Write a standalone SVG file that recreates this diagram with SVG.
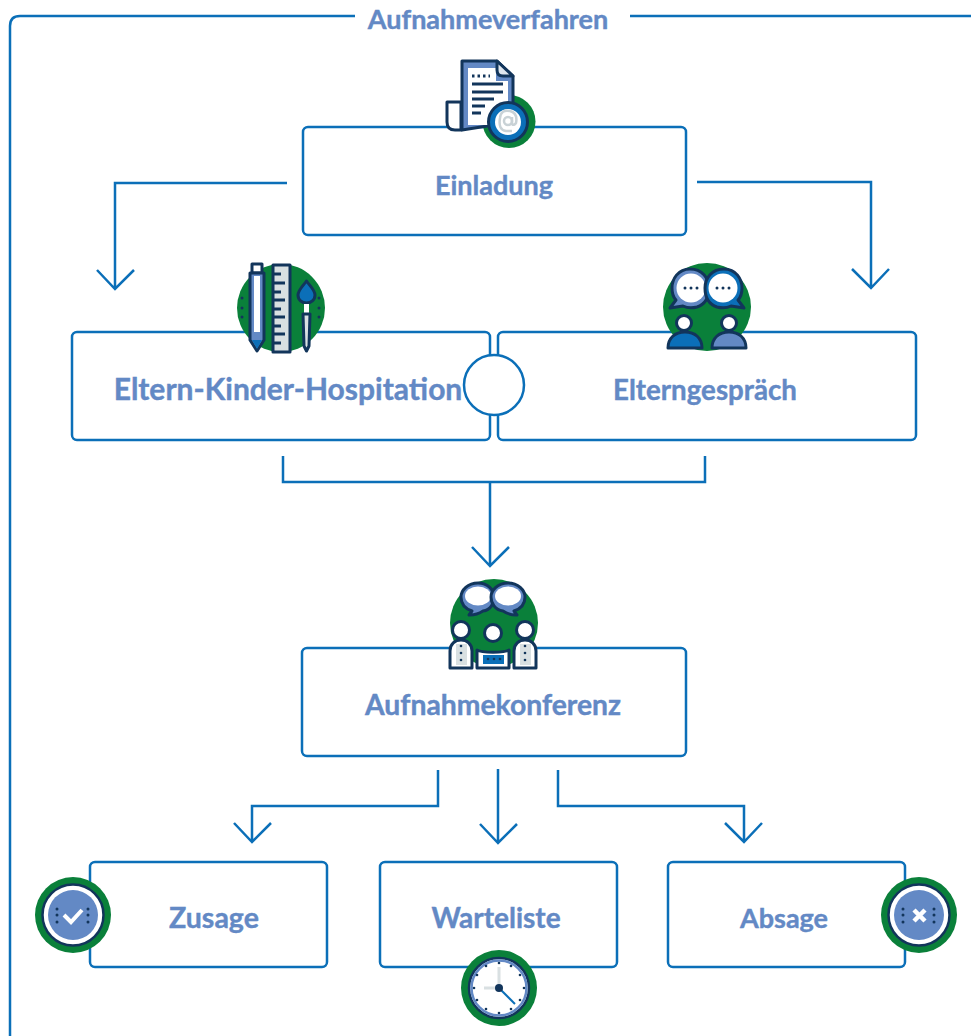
<svg xmlns="http://www.w3.org/2000/svg" width="971" height="1036" viewBox="0 0 971 1036">
<style>
.box{fill:#fff;stroke:#0b6fb8;stroke-width:2.5}
.con{fill:none;stroke:#0b6fb8;stroke-width:2.5}
.t{font-family:Lato,"Liberation Sans",sans-serif;font-weight:700;fill:#6389c5;stroke:#6389c5;stroke-width:.4;text-anchor:middle}
.n{stroke:#12355b;stroke-width:3;stroke-linejoin:round;stroke-linecap:round}
.g{fill:#0a803a}
.d{fill:#12355b}
.w{fill:#fff}
.b{fill:#6389c5}
.bb{fill:#0b6fb8}
.ln{fill:none;stroke:#12355b;stroke-width:3}
</style>
<g id="frame"><path class="con" d="M355 16H20Q10 16 10 26V1036M630 16H971"/>
<text class="t" x="488" y="29" font-size="27">Aufnahmeverfahren</text></g>
<g id="connectors">
<path class="con" d="M287 183H115V289M97 270L115 289L134 270"/>
<path class="con" d="M697 182H871V288M852 269L871 288L889 269"/>
<path class="con" d="M283 456V482H705V456M490 482V566M472 547L490 566L509 547"/>
<path class="con" d="M438 770V806H252V842M234 823L252 842L271 823"/>
<path class="con" d="M498 769V843M480 824L498 843L517 824"/>
<path class="con" d="M558 770V806H744V842M725 823L744 842L762 823"/>
</g>
<g id="einladung">
<rect class="box" x="303" y="127" width="383" height="108" rx="5"/>
<text class="t" x="494" y="195" font-size="27">Einladung</text>
<circle class="g" cx="509" cy="121.500" r="26.500"/>
<path class="w n" d="M447 102H461V130H455Q447 130 447 122Z"/>
<path fill="#6389c5" class="n" d="M462 61H497L513 76V124H500L462 130Z"/>
<path class="w" d="M468 68H496V81H508V125H468Z"/>
<path fill="#dfe6ee" class="n" d="M497 61V70Q497 76 503 76H513Z"/>
<path class="ln" d="M472 76H490" stroke-dasharray="2.500 3"/>
<path class="ln" d="M472 84H503M472 92H503M472 99H494M472 106H485M472 113H481"/>
<circle cx="508" cy="122" r="19.500" fill="#0b6fb8" stroke="#12355b" stroke-width="3"/>
<circle class="w" cx="508" cy="122" r="13"/>
<circle cx="508" cy="121" r="4" fill="none" stroke="#c9d2d6" stroke-width="2.500"/>
<path fill="none" stroke="#c9d2d6" stroke-width="2.500" d="M512 117V124Q514 126 516 123Q518 113 510 111Q501 109 500 118Q498 130 506 131H512"/>
</g>
<g id="hospitation">
<rect class="box" x="72" y="332" width="418" height="108" rx="5"/>
<text class="t" x="288" y="400" font-size="30">Eltern-Kinder-Hospitation</text>
<circle class="g" cx="281" cy="308" r="44"/>
<rect class="n" fill="#fff" x="252" y="264" width="10" height="9"/>
<path class="n" fill="#6389c5" d="M250 273H264V340L257 351L250 340Z"/>
<rect class="w" x="254" y="276" width="6" height="56"/>
<path class="bb" d="M252 340H262L257 349Z"/>
<rect class="n" fill="#d9e0e2" x="273" y="265" width="17" height="87"/>
<path class="ln" d="M273 274H281M273 283H285M273 292H281M273 300H285M273 309H281M273 317H285M273 326H281M273 334H285M273 343H281"/>
<path class="n" fill="#0b6fb8" d="M306.500 281C303 286 298 290 298 295C298 300 302 303 306.500 303C311 303 315 300 315 295C315 290 310 286 306.500 281Z"/>
<rect class="w" x="304" y="304" width="5" height="9"/>
<path class="n" fill="#d9e0e2" d="M303 314H310L309 346L306.500 351L304 346Z"/>
<circle class="d" cx="242" cy="298" r="1.500"/><circle class="d" cx="242" cy="308" r="1.500"/><circle class="d" cx="242" cy="317" r="1.500"/>
<circle class="d" cx="319" cy="298" r="1.500"/><circle class="d" cx="319" cy="308" r="1.500"/><circle class="d" cx="319" cy="317" r="1.500"/>
</g>
<g id="elterngespraech">
<rect class="box" x="498" y="332" width="418" height="108" rx="5"/>
<text class="t" x="705" y="400" font-size="27.700">Elterngespräch</text>
<circle class="g" cx="707" cy="307" r="44"/>
<path class="n" fill="#6389c5" d="M690 269C678 269 672 279 672 288C672 293 673 297 676 300L670 308L683 306C687 308 693 308 697 307C706 304 709 296 709 288C709 278 702 269 690 269Z"/>
<circle class="w" cx="691" cy="288" r="14.500"/>
<path class="n" fill="#0b6fb8" d="M724 269C736 269 742 279 742 288C742 293 741 297 738 300L744 308L731 306C727 308 721 308 717 307C708 304 705 296 705 288C705 278 712 269 724 269Z"/>
<circle class="w" cx="723" cy="288" r="14.500"/>
<circle class="d" cx="685" cy="288" r="1.500"/><circle class="d" cx="691" cy="288" r="1.500"/><circle class="d" cx="697" cy="288" r="1.500"/>
<circle class="d" cx="717" cy="288" r="1.500"/><circle class="d" cx="723" cy="288" r="1.500"/><circle class="d" cx="729" cy="288" r="1.500"/>
<circle class="w n" cx="684" cy="323" r="7.500"/>
<circle class="w n" cx="729" cy="323" r="7.500"/>
<path class="n" fill="#0b6fb8" d="M668 348C668 338 675 332 685 332C695 332 702 338 702 348Z"/>
<path class="n" fill="#6389c5" d="M712 348C712 338 719 332 729 332C739 332 746 338 746 348Z"/>
</g>
<g id="connector-circle"><circle class="box" cx="494" cy="385" r="30"/></g>
<g id="aufnahmekonferenz">
<rect class="box" x="302" y="648" width="384" height="108" rx="5"/>
<text class="t" x="493" y="715" font-size="28.300">Aufnahmekonferenz</text>
<circle class="g" cx="494" cy="623" r="44"/>
<path class="n" fill="#6389c5" d="M478 583C468 583 461 590 461 597C461 605 466 609 472 611L469 615L470 615C475 615 480 613 483 611C491 610 494 603 494 597C494 590 488 583 478 583Z"/>
<ellipse class="w" cx="478" cy="596" rx="13" ry="9.500"/>
<path class="n" fill="#6389c5" d="M508 583C518 583 525 590 525 597C525 605 520 609 514 611L517 615L516 615C511 615 506 613 503 611C495 610 491 603 491 597C491 590 498 583 508 583Z"/>
<ellipse class="w" cx="508" cy="596" rx="13" ry="9.500"/>
<path class="n" fill="#fff" d="M450 668V651C450 644 455 640 461 640C467 640 472 644 472 651V668Z"/>
<path class="n" fill="#fff" d="M514 668V651C514 644 519 640 525 640C531 640 536 644 536 651V668Z"/>
<path class="n" fill="#fff" d="M477 668V650C482 653 504 653 509 650V668Z"/>
<rect class="bb" x="483" y="655" width="21" height="9"/>
<rect fill="#d9e0e2" x="456" y="644" width="11" height="21"/>
<rect fill="#d9e0e2" x="520" y="644" width="11" height="21"/>
<circle class="w n" cx="461" cy="630" r="8.500"/>
<circle class="w n" cx="493" cy="633" r="8.500"/>
<circle class="w n" cx="525" cy="630" r="8.500"/>
<circle class="d" cx="461" cy="646" r="1.300"/><circle class="d" cx="461" cy="653" r="1.300"/><circle class="d" cx="461" cy="660" r="1.300"/>
<circle class="d" cx="525" cy="646" r="1.300"/><circle class="d" cx="525" cy="653" r="1.300"/><circle class="d" cx="525" cy="660" r="1.300"/>
<circle class="d" cx="488" cy="659" r="1.300"/><circle class="d" cx="494" cy="659" r="1.300"/><circle class="d" cx="500" cy="659" r="1.300"/>
</g>
<g id="zusage">
<rect class="box" x="90" y="862" width="237" height="105" rx="5"/>
<text class="t" x="214" y="928" font-size="28.500">Zusage</text>
<circle class="g" cx="73" cy="915" r="38"/>
<circle cx="73" cy="915" r="30.500" fill="#fff" stroke="#12355b" stroke-width="2.500"/>
<circle class="b" cx="73" cy="915" r="25"/>
<path d="M64 915L71 922L82 910" fill="none" stroke="#fff" stroke-width="4"/>
<circle class="d" cx="57" cy="909" r="1.500"/><circle class="d" cx="57" cy="915" r="1.500"/><circle class="d" cx="57" cy="922" r="1.500"/>
<circle class="d" cx="88" cy="909" r="1.500"/><circle class="d" cx="88" cy="915" r="1.500"/><circle class="d" cx="88" cy="922" r="1.500"/>
</g>
<g id="warteliste">
<rect class="box" x="380" y="862" width="237" height="105" rx="5"/>
<text class="t" x="496" y="928" font-size="28">Warteliste</text>
<circle class="g" cx="499" cy="988" r="38"/>
<circle cx="499" cy="988" r="30" fill="#fff" stroke="#12355b" stroke-width="2.500"/>
<circle cx="499" cy="988" r="27.500" fill="none" stroke="#6389c5" stroke-width="2.500"/>
<path d="M499 988V967M499 988H484" stroke="#d9e0e2" stroke-width="3" fill="none"/>
<path d="M499 988L515 1004" stroke="#0b6fb8" stroke-width="2" fill="none"/>
<circle class="d" cx="499" cy="988" r="4"/>
<g class="d"><circle cx="499" cy="963" r="1.300"/><circle cx="499" cy="1013" r="1.300"/><circle cx="474" cy="988" r="1.300"/><circle cx="524" cy="988" r="1.300"/><circle cx="486" cy="966" r="1.300"/><circle cx="511" cy="966" r="1.300"/><circle cx="486" cy="1009" r="1.300"/><circle cx="511" cy="1009" r="1.300"/><circle cx="477" cy="975" r="1.300"/><circle cx="520" cy="975" r="1.300"/><circle cx="477" cy="1000" r="1.300"/><circle cx="520" cy="1000" r="1.300"/></g>
</g>
<g id="absage">
<rect class="box" x="668" y="862" width="237" height="105" rx="5"/>
<text class="t" x="784" y="928" font-size="27">Absage</text>
<circle class="g" cx="919" cy="915" r="38"/>
<circle cx="919" cy="915" r="30.500" fill="#fff" stroke="#12355b" stroke-width="2.500"/>
<circle class="b" cx="919" cy="915" r="25"/>
<path d="M914 910L925 921M925 910L914 921" fill="none" stroke="#fff" stroke-width="4.500"/>
<circle class="d" cx="903" cy="909" r="1.500"/><circle class="d" cx="903" cy="915" r="1.500"/><circle class="d" cx="903" cy="922" r="1.500"/>
<circle class="d" cx="934" cy="909" r="1.500"/><circle class="d" cx="934" cy="915" r="1.500"/><circle class="d" cx="934" cy="922" r="1.500"/>
</g>
</svg>
